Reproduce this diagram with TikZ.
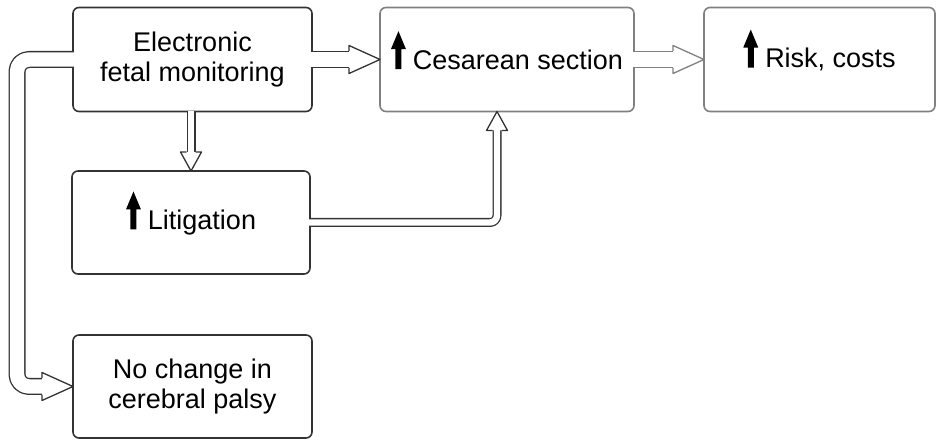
\documentclass[tikz,border=0pt]{standalone}
\usepackage{fontspec}
\setmainfont{Liberation Sans}
\usetikzlibrary{calc}

\definecolor{boxdark}{HTML}{333333}
\definecolor{boxgray}{HTML}{808080}

% heavy up arrow in front of a label
\newcommand{\uparr}{\raisebox{0pt}[0pt][0pt]{\tikz\fill[black,sharp corners,line join=miter] (-3pt,0pt) -- (-3pt,20pt) -- (-7.5pt,20pt) -- (0pt,38pt) -- (7.5pt,20pt) -- (3pt,20pt) -- (3pt,0pt) -- cycle;}\hspace{7pt}}

\begin{document}
\begin{tikzpicture}[x=1pt,y=1pt,line join=round,
  box/.style={draw=boxdark,line width=1.6pt,rounded corners=6pt,fill=white,align=center,
    inner sep=0pt,outer sep=0pt,font=\fontsize{27}{30}\selectfont},
  widebar/.style={draw=boxdark,line width=1.3pt,double=white,double distance=14.4pt,shorten <=-0.8pt},
  thinbar/.style={draw=boxdark,line width=1.3pt,double=white,double distance=6.4pt,shorten <=-0.8pt},
  widehead/.pic={
    \fill[white] (-31pt,-14pt) -- (0pt,0pt) -- (-31pt,14pt) -- cycle;
    \draw[line width=1.3pt] (-31pt,-8.5pt) -- (-31pt,-14pt) -- (0pt,0pt) -- (-31pt,14pt) -- (-31pt,8.5pt);},
  thinhead/.pic={
    \fill[white] (-19pt,-10.5pt) -- (0pt,0pt) -- (-19pt,10.5pt) -- cycle;
    \draw[line width=1.3pt] (-19pt,-4.5pt) -- (-19pt,-10.5pt) -- (0pt,0pt) -- (-19pt,10.5pt) -- (-19pt,4.5pt);}]
  \useasboundingbox (0,0) rectangle (936,441);

  % boxes
  \node[box,minimum width=239pt,minimum height=104pt] (efm) at (192.5,381.5) {Electronic\\fetal monitoring};
  \node[box,draw=boxgray,minimum width=254pt,minimum height=104pt] (ces) at (507,381.5) {\uparr Cesarean section};
  \node[box,draw=boxgray,minimum width=231pt,minimum height=104pt] (risk) at (819.5,381.5) {\uparr Risk, costs};
  \node[box,minimum width=238pt,minimum height=103pt] (lit) at (191,218.5) {\uparr Litigation};
  \node[box,minimum width=239pt,minimum height=103pt] (noch) at (192.5,54.5) {No change in\\cerebral palsy};

  % hollow arrows
  \draw[widebar,shorten >=30pt] (efm.east) -- (ces.west);
  \pic[color=boxdark] at (ces.west) {widehead};
  \draw[widebar,draw=boxgray,shorten >=30pt] (ces.east) -- (risk.west);
  \pic[color=boxgray] at (risk.west) {widehead};
  \draw[thinbar,shorten >=18pt] (lit.north |- efm.south) -- (lit.north);
  \pic[color=boxdark,rotate=-90] at (lit.north) {thinhead};
  \coordinate (cesin) at ($(ces.south)+(-10,0)$);
  \draw[thinbar,rounded corners=7pt,shorten >=18pt] (lit.east) -| (cesin);
  \pic[color=boxdark,rotate=90] at (cesin) {thinhead};
  \coordinate (loop) at ($(efm.west)+(-56,0)$);
  \draw[widebar,rounded corners=12pt,shorten >=30pt] (efm.west) -- (loop) |- (noch.west);
  \pic[color=boxdark] at (noch.west) {widehead};
\end{tikzpicture}
\end{document}
